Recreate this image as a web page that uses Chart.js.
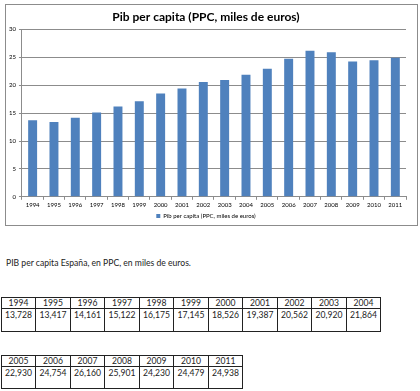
<!DOCTYPE html>
<html>
<head>
<meta charset="utf-8">
<script src="https://cdn.jsdelivr.net/npm/chart.js@4"></script>
<style>
  body { margin: 0; width: 420px; height: 391px; background: #fff; position: relative; overflow: hidden;
         font-family: Lato, "Open Sans", sans-serif; }
  #box { position: absolute; left: 5px; top: 4px; width: 411px; height: 220px; border: 1px solid #8c8c8c; }
  #wrap { position: absolute; left: 6px; top: 5px; width: 410px; height: 224px; }
  #note { position: absolute; left: 6px; top: 258px; font-size: 8.6px; color: #222; }
  .cell { position: absolute; box-sizing: border-box; border: 1px solid #222; text-align: center;
          font-size: 8.6px; color: #222; line-height: 10px; overflow: hidden; }
</style>
</head>
<body>
<div id="box"></div>
<div id="wrap"><canvas id="chart1"></canvas></div>
<div id="note">PIB per capita España, en PPC, en miles de euros.</div>
<div id="tables"></div>
<script>
// años y pib per capita (miles de euros)
const years = ["1994", "1995", "1996", "1997", "1998", "1999", "2000", "2001", "2002", "2003", "2004",
               "2005", "2006", "2007", "2008", "2009", "2010", "2011"];
const pib = [13.728, 13.417, 14.161, 15.122, 16.175, 17.145, 18.526, 19.387, 20.562, 20.920, 21.864,
             22.930, 24.754, 26.160, 25.901, 24.230, 24.479, 24.938];
const pib_labels = ["13,728", "13,417", "14,161", "15,122", "16,175", "17,145", "18,526", "19,387", "20,562", "20,920", "21,864",
                    "22,930", "24,754", "26,160", "25,901", "24,230", "24,479", "24,938"];

const pib_data = {
    labels: years,
    datasets: [{
        label: 'Pib per capita (PPC, miles de euros)',
        backgroundColor: '#4f81bd',
        data: pib,
        barPercentage: 0.42,
        categoryPercentage: 1
    }]
};

const pib_config = {
    type: 'bar',
    data: pib_data,
    options: {
        responsive: true,
        maintainAspectRatio: false,
        animation: false,
        layout: { padding: { left: 0, right: 10, top: 0, bottom: 0 } },
        plugins: {
            title: {
                display: true,
                text: 'Pib per capita (PPC, miles de euros)',
                color: '#000',
                font: { family: 'Lato', size: 12, weight: 'bold' },
                padding: { top: 5, bottom: 5 }
            },
            legend: {
                position: 'bottom',
                labels: {
                    boxWidth: 4, boxHeight: 4, padding: 2,
                    color: '#000',
                    font: { family: 'Lato', size: 6 }
                }
            },
            tooltip: { enabled: false }
        },
        scales: {
            y: {
                min: 0, max: 30,
                ticks: { stepSize: 5, color: '#000', font: { family: 'Lato', size: 6 }, padding: 3 },
                grid: { color: '#8c8c8c', tickLength: 3 },
                border: { color: '#8c8c8c' }
            },
            x: {
                ticks: { color: '#000', font: { family: 'Lato', size: 6 }, maxRotation: 0, autoSkip: false, padding: 2 },
                grid: { drawOnChartArea: false, color: '#8c8c8c', tickLength: 3 },
                border: { color: '#8c8c8c' }
            }
        }
    }
};

const pib_chart = new Chart(document.getElementById('chart1'), pib_config);

// tablas: celdas con posición fija
function fillTable(from, to, top, hh, vh) {
    const host = document.getElementById('tables');
    const w = 34.45;
    for (let i = from; i < to; i++) {
        const x = Math.round(1 + (i - from) * w);
        const x2 = Math.round(1 + (i - from + 1) * w);
        const head = document.createElement('div');
        head.className = 'cell';
        head.style.cssText = `left:${x}px;top:${top}px;width:${x2 - x + 1}px;height:${hh + 1}px;`;
        head.textContent = years[i];
        const val = document.createElement('div');
        val.className = 'cell';
        val.style.cssText = `left:${x}px;top:${top + hh}px;width:${x2 - x + 1}px;height:${vh + 1}px;padding-top:1px;`;
        val.textContent = pib_labels[i];
        host.appendChild(head);
        host.appendChild(val);
    }
}
fillTable(0, 11, 297, 11, 23);
fillTable(11, 18, 355, 11, 22);
</script>
</body>
</html>
